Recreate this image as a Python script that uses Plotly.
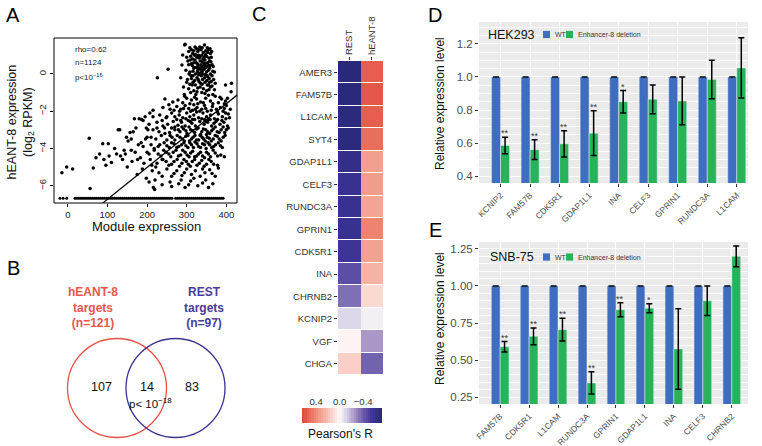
import plotly.graph_objects as go

FONT = "Liberation Sans, Arial, Helvetica, sans-serif"

# ---------------- Panel A: scatter -------------
floor_level = -6.67
floor_x = [-20, -12, -3, 18, 23, 28, 33, 38, 43, 48, 53, 58, 63, 68, 73, 78, 83, 88,
           93, 98, 103, 108, 113, 118, 123, 128, 133, 138, 143, 148, 153, 158, 163,
           168, 173, 178, 183, 188, 193, 198, 203, 208, 213, 218, 223, 228, 233, 238,
           243, 248, 253, 258, 263, 272, 277, 282, 287, 292, 297, 302, 307, 312, 317,
           322, 327, 332, 337, 342, 347, 352, 357, 362, 367, 372, 377, 382, 387, 392]

scatter_pts = [
    # sparse left part
    (-15, -5.3), (-3, -5.0), (12, -5.1), (54, -3.45), (64, -5.05), (71, -4.5), (56, -6.15),
    (88, -3.75), (102, -3.75), (91, -4.6), (110, -4.75), (104, -4.4), (123, -4.3), (127, -3.0),
    (131, -3.0), (133, -4.4), (138, -4.6), (142, -4.1), (145, -4.3), (150, -5.0), (152, -3.6),
    (157, -3.15), (160, -3.5), (162, -4.7), (165, -3.1), (168, -2.4), (170, -4.2), (172, -2.9),
    (175, -5.4), (178, -3.8), (180, -2.4), (183, -4.5), (186, -2.45), (188, -5.1), (190, -2.5),
    (190, -3.9), (192, -4.8), (195, -2.3), (196, -3.5), (198, -5.6), (200, -4.2), (202, -3.0),
    (205, -5.8), (207, -2.1), (208, -4.6), (210, -3.4), (213, -5.2), (215, -1.95), (216, -6.1),
    (219, -6.2), (220, -5.7), (218, -4.0), (222, -5.0),
    (225, -2.9), (232, -3.8), (238, -4.6), (245, -3.2), (212, -4.9), (228, -4.3), (240, -2.8),
    (250, -2.3), (255, -1.65), (268, -1.95), (198, -2.9), (185, -3.7), (176, -4.6), (160, -4.1),
    (148, -3.4), (118, -4.0), (96, -4.9), (80, -4.3),
    # isolated high points
    (253, 0.25), (226, -0.2), (245, -1.35), (295, 1.56), (290, 1.02), (288, 0.48),
    (413, -0.5), (412, -0.95), (398, -0.6),
    # dense upper cluster
    (296, 1.6), (333, 1.45), (345, 1.55), (352, 1.4), (325, 1.35),
    (312, 1.3), (318, 1.25), (328, 1.2), (336, 1.3), (342, 1.15), (348, 1.25), (355, 1.3),
    (360, 1.1), (322, 1.05), (305, 1.2),
    (300, 0.9), (310, 0.95), (315, 0.8), (320, 1.0), (326, 0.9), (331, 0.85), (338, 1.0),
    (344, 0.9), (350, 0.95), (356, 0.85), (362, 0.9), (334, 0.7), (318, 0.6), (340, 0.65),
    (305, 0.5), (312, 0.55), (324, 0.6), (329, 0.45), (336, 0.5), (342, 0.4), (347, 0.55),
    (353, 0.6), (358, 0.45), (364, 0.5), (320, 0.35), (346, 0.75), (332, 0.3),
    (298, 0.2), (308, 0.1), (316, 0.15), (322, 0.0), (328, 0.2), (334, 0.05), (339, 0.15),
    (344, 0.25), (350, 0.1), (355, 0.2), (360, 0.0), (366, 0.15), (347, -0.05), (337, -0.1),
    (302, -0.3), (312, -0.25), (320, -0.35), (326, -0.2), (331, -0.4), (340, -0.3),
    (345, -0.2), (351, -0.35), (357, -0.25), (362, -0.4), (368, -0.3), (335, -0.5), (355, -0.6),
    (292, -0.7), (305, -0.8), (314, -0.6), (318, -0.9), (328, -0.75), (342, -0.8), (350, -0.9),
    (360, -0.7), (370, -0.85), (338, -1.0), (323, -1.1), (300, -0.45), (285, -0.2), (294, -1.1),
    (330, 1.0), (341, 0.8), (327, 0.1), (352, -0.1), (316, -0.1), (344, 0.55), (358, 0.7),
    (308, 1.4), (315, 1.1), (321, 1.45), (330, 1.3), (339, 1.4), (347, 1.05), (353, 1.15),
    (359, 1.35), (363, 1.2), (303, 0.7), (309, 0.75), (314, 0.45), (321, 0.75), (327, 0.55),
    (333, 0.9), (337, 0.35), (343, 0.6), (349, 0.35), (355, 0.45), (361, 0.65), (367, 0.4),
    (306, 0.0), (311, -0.1), (318, 0.3), (325, 0.35), (330, -0.05), (336, 0.25), (341, 0.0),
    (348, 0.4), (353, -0.15), (358, 0.3), (364, -0.1), (370, 0.1), (308, -0.55), (316, -0.45),
    (322, -0.6), (329, -0.3), (334, -0.7), (339, -0.55), (346, -0.45), (352, -0.6),
    (358, -0.45), (364, -0.65), (372, -0.5), (310, -1.0), (326, -0.95), (346, -1.05),
    (356, -0.85), (366, -1.1),
    # main cloud
    (265, -1.5), (300, -1.3), (312, -1.4), (320, -1.25), (335, -1.5), (348, -1.3), (360, -1.45),
    (372, -1.2), (380, -1.55), (388, -1.35), (395, -1.6), (403, -1.3), (355, -1.15), (328, -1.6),
    (290, -1.55),
    (240, -1.8), (258, -1.9), (275, -1.75), (285, -1.9), (296, -1.7), (305, -1.85), (315, -1.95),
    (326, -1.8), (338, -1.9), (345, -1.7), (352, -2.0), (365, -1.75), (375, -1.9), (385, -1.8),
    (392, -2.0), (400, -1.7), (410, -1.9), (318, -1.65),
    (215, -2.3), (232, -2.2), (248, -2.35), (262, -2.1), (270, -2.3), (281, -2.2), (290, -2.35),
    (300, -2.1), (308, -2.3), (318, -2.2), (330, -2.35), (341, -2.1), (350, -2.3), (360, -2.2),
    (370, -2.4), (380, -2.15), (390, -2.3), (398, -2.1), (408, -2.35), (325, -2.05), (355, -2.45),
    (205, -2.7), (225, -2.6), (238, -2.5), (252, -2.7), (266, -2.55), (278, -2.75), (287, -2.6),
    (296, -2.8), (304, -2.5), (313, -2.65), (322, -2.8), (333, -2.55), (344, -2.7), (353, -2.6),
    (363, -2.8), (374, -2.55), (384, -2.7), (394, -2.6), (403, -2.8), (315, -2.45), (345, -2.45),
    (215, -3.0), (230, -3.1), (244, -2.9), (257, -3.15), (270, -3.0), (283, -3.1), (292, -2.95),
    (301, -3.2), (310, -3.0), (320, -3.15), (329, -2.9), (338, -3.1), (348, -3.0), (358, -3.2),
    (367, -2.95), (377, -3.1), (387, -3.0), (396, -3.15), (405, -2.9), (270, -2.85), (335, -3.25),
    (200, -3.4), (222, -3.5), (236, -3.3), (250, -3.55), (263, -3.4), (276, -3.3), (289, -3.5),
    (298, -3.35), (307, -3.6), (316, -3.4), (325, -3.55), (334, -3.3), (343, -3.5), (352, -3.4),
    (362, -3.6), (372, -3.3), (382, -3.5), (392, -3.4), (350, -3.25),
    (210, -3.8), (228, -3.9), (243, -3.7), (256, -3.95), (268, -3.75), (280, -3.9), (293, -3.7),
    (303, -3.95), (312, -3.8), (321, -3.65), (330, -3.9), (340, -3.75), (349, -4.0), (358, -3.8),
    (368, -3.9), (380, -3.7), (390, -3.95),
    (205, -4.3), (218, -4.1), (235, -4.4), (248, -4.2), (260, -4.45), (273, -4.1), (285, -4.35),
    (296, -4.2), (306, -4.45), (315, -4.15), (325, -4.4), (335, -4.2), (345, -4.5), (355, -4.3),
    (367, -4.1), (378, -4.4), (395, -4.45),
    (225, -4.8), (240, -4.6), (255, -4.9), (268, -4.7), (282, -4.95), (293, -4.6), (304, -4.85),
    (314, -4.7), (326, -4.9), (338, -4.65), (350, -4.85), (362, -4.7), (378, -4.9),
    (230, -5.3), (250, -5.1), (262, -5.5), (275, -5.2), (288, -5.45), (300, -5.1), (312, -5.4),
    (322, -5.2), (334, -5.5), (346, -5.3), (358, -5.15), (372, -5.5), (380, -5.05),
    (258, -5.8), (262, -6.05), (280, -5.9), (296, -6.1), (310, -5.75), (328, -6.0), (340, -5.85),
    (355, -6.1), (366, -5.9), (238, -5.95),
    (278, -1.4), (295, -1.2), (308, -1.6), (325, -1.35), (342, -1.55), (366, -1.6), (384, -1.25),
    (398, -1.45), (282, -2.0), (292, -1.85), (310, -2.0), (322, -1.9), (333, -2.0), (348, -1.85),
    (362, -1.95), (378, -2.05), (395, -1.85), (405, -2.15), (275, -2.45), (285, -2.5),
    (298, -2.4), (309, -2.55), (320, -2.45), (338, -2.4), (348, -2.55), (359, -2.45),
    (369, -2.65), (378, -2.45), (389, -2.5), (399, -2.4), (262, -2.9), (279, -3.0), (288, -2.85),
    (298, -3.05), (306, -2.85), (315, -3.05), (325, -2.95), (342, -2.95), (353, -3.1),
    (363, -3.05), (372, -2.85), (382, -3.15), (392, -2.85), (400, -3.0), (258, -3.3),
    (270, -3.55), (283, -3.4), (294, -3.6), (303, -3.3), (312, -3.5), (321, -3.3), (330, -3.55),
    (339, -3.4), (347, -3.6), (357, -3.45), (367, -3.5), (377, -3.35), (387, -3.6), (397, -3.3),
    (250, -3.85), (262, -3.7), (275, -3.95), (287, -3.8), (298, -3.85), (308, -3.7),
    (317, -3.95), (326, -3.75), (335, -3.95), (345, -3.8), (354, -3.7), (363, -3.95),
    (373, -3.8), (385, -3.85), (242, -4.1), (255, -4.3), (266, -4.2), (279, -4.4), (290, -4.1),
    (301, -4.35), (310, -4.25), (320, -4.45), (330, -4.3), (340, -4.4), (350, -4.2), (360, -4.45),
    (372, -4.25), (386, -4.35), (248, -4.7), (262, -4.85), (276, -4.6), (288, -4.8), (299, -4.7),
    (309, -4.95), (320, -4.6), (332, -4.8), (344, -4.95), (356, -4.6), (368, -4.85),
    (238, -5.5), (268, -5.35), (294, -5.3), (318, -5.6), (340, -5.1), (364, -5.35), (286, -5.7),
    (305, -5.95), (348, -5.7),
]
fit_intercept = -8.44
fit_slope = 0.0171
fit_x = [60, 440]

# ---------------- Panel B: Venn ----------------
venn_counts = {"hEANT-8 only": 107, "both": 14, "REST only": 83}
venn_heant8_n = 121
venn_rest_n = 97

# ---------------- Panel C: heatmap ----------------
heat_genes = ["AMER3", "FAM57B", "L1CAM", "SYT4", "GDAP1L1", "CELF3", "RUNDC3A",
              "GPRIN1", "CDK5R1", "INA", "CHRNB2", "KCNIP2", "VGF", "CHGA"]
heat_cols = ["REST", "hEANT-8"]
r_rest = [-0.72, -0.71, -0.70, -0.70, -0.64, -0.60, -0.60, -0.60, -0.56, -0.45, -0.35,
          -0.10, 0.02, 0.15]
r_heant8 = [0.55, 0.57, 0.55, 0.50, 0.33, 0.34, 0.31, 0.43, 0.32, 0.25, 0.12, -0.03,
            -0.25, -0.38]
cbar_vals = [0.62, 0.58, 0.54, 0.50, 0.46, 0.42, 0.38, 0.34, 0.30, 0.26, 0.22, 0.18, 0.14,
             0.10, 0.06, 0.02, -0.02, -0.06, -0.10, -0.14, -0.18, -0.22, -0.26, -0.30,
             -0.34, -0.38, -0.42, -0.46, -0.50, -0.54, -0.58, -0.62, -0.66, -0.70]
r_min, r_max = -0.72, 0.64
cscale = [[0.0, "#2a2878"], [0.125, "#3f3598"], [0.235, "#6a5aaa"], [0.346, "#aa98c8"],
          [0.456, "#dcd8ea"], [0.529, "#fdfafa"], [0.618, "#fcd8d2"], [0.713, "#f6b2a5"],
          [0.787, "#f29a89"], [0.86, "#ee7d6b"], [0.949, "#e35848"], [1.0, "#df4a3c"]]

# ---------------- Panel D: HEK293 ----------------
d_genes = ["KCNIP2", "FAM57B", "CDK5R1", "GDAP1L1", "INA", "CELF3", "GPRIN1", "RUNDC3A", "L1CAM"]
d_wt = [1, 1, 1, 1, 1, 1, 1, 1, 1]
d_del = [0.585, 0.56, 0.595, 0.66, 0.85, 0.865, 0.855, 0.985, 1.055]
d_err = [0.05, 0.06, 0.08, 0.135, 0.068, 0.087, 0.145, 0.117, 0.183]
d_sig = ["**", "**", "**", "**", "*", "", "", "", ""]

# ---------------- Panel E: SNB-75 ----------------
e_genes = ["FAM57B", "CDK5R1", "L1CAM", "RUNDC3A", "GPRIN1", "GDAP1L1", "INA", "CELF3", "CHRNB2"]
e_wt = [1, 1, 1, 1, 1, 1, 1, 1, 1]
e_del = [0.59, 0.66, 0.705, 0.345, 0.84, 0.85, 0.575, 0.90, 1.20]
e_err = [0.035, 0.057, 0.077, 0.075, 0.047, 0.03, 0.272, 0.10, 0.07]
e_sig = ["**", "**", "**", "**", "**", "*", "", "", ""]

legend_names = ["WT", "Enhancer-8 deletion"]
WT_COLOR = "#3f6dc0"
DEL_COLOR = "#28b35b"
W, H = 762, 446


def px_x(p):
    return p / W


def px_y(p):
    return 1 - p / H


def note(x, y, text, size, color="#111111", xanchor="center", **kw):
    return dict(x=px_x(x), y=px_y(y), xref="paper", yref="paper", text=text,
                showarrow=False, xanchor=xanchor, yanchor="middle",
                font=dict(family=FONT, size=size, color=color, **kw.pop("fontkw", {})), **kw)


fig = go.Figure()

# ---- A
fig.add_trace(go.Scatter(x=floor_x, y=[floor_level] * len(floor_x), mode="markers",
                         marker=dict(color="black", size=3), xaxis="x", yaxis="y",
                         showlegend=False))
fig.add_trace(go.Scatter(x=[p[0] for p in scatter_pts], y=[p[1] for p in scatter_pts],
                         mode="markers", marker=dict(color="black", size=3.5),
                         xaxis="x", yaxis="y", showlegend=False))
fig.add_trace(go.Scatter(x=fit_x, y=[fit_intercept + fit_slope * v for v in fit_x],
                         mode="lines", line=dict(color="black", width=1.2),
                         xaxis="x", yaxis="y", showlegend=False))

# ---- C heatmap + its colour key
fig.add_trace(go.Heatmap(z=[[a, b] for a, b in zip(r_rest, r_heant8)], x=heat_cols,
                         y=heat_genes, colorscale=cscale, zmin=r_min, zmax=r_max,
                         showscale=False, ygap=1, xaxis="x2", yaxis="y2",
                         hoverinfo="skip"))
fig.add_trace(go.Heatmap(z=[cbar_vals], x=cbar_vals, y=[0], colorscale=cscale,
                         zmin=r_min, zmax=r_max, showscale=False, xaxis="x6",
                         yaxis="y6", hoverinfo="skip"))

# ---- D / E bars
for genes, wt, dele, err, xa, ya in [(d_genes, d_wt, d_del, d_err, "x3", "y3"),
                                      (e_genes, e_wt, e_del, e_err, "x4", "y4")]:
    fig.add_trace(go.Bar(x=genes, y=wt, name=legend_names[0], marker_color=WT_COLOR,
                         error_y=dict(type="data", array=[0] * len(wt), color="black",
                                      thickness=1.5, width=3),
                         xaxis=xa, yaxis=ya, showlegend=False, offsetgroup="wt"))
    fig.add_trace(go.Bar(x=genes, y=dele, name=legend_names[1], marker_color=DEL_COLOR,
                         error_y=dict(type="data", array=err, color="black",
                                      thickness=1.5, width=3),
                         xaxis=xa, yaxis=ya, showlegend=False, offsetgroup="del"))

annotations = []
shapes = []

# significance stars
for genes, vals, errs, sig, xr, yr in [(d_genes, d_del, d_err, d_sig, "x3", "y3"),
                                        (e_genes, e_del, e_err, e_sig, "x4", "y4")]:
    for g, v, e, s in zip(genes, vals, errs, sig):
        if s:
            annotations.append(dict(x=g, y=v + e, xref=xr, yref=yr, text=s, showarrow=False,
                                    xshift=4.5, yshift=-3, yanchor="bottom", xanchor="center",
                                    font=dict(family=FONT, size=9, color="#333333")))

# grey ggplot backgrounds
for xr, yr in [("x3", "y3"), ("x4", "y4")]:
    shapes.append(dict(type="rect", xref=xr + " domain", yref=yr + " domain", x0=0, x1=1,
                       y0=0, y1=1, fillcolor="#ebebeb", line=dict(width=0), layer="below"))
# frame of panel A
shapes.append(dict(type="rect", xref="x domain", yref="y domain", x0=0, x1=1, y0=0, y1=1,
                   line=dict(color="black", width=1), fillcolor="rgba(0,0,0,0)"))

# custom legends of D / E
for ycen, title in [(34.5, "HEK293"), (257, "SNB-75")]:
    for (x0, x1), col, lab, tx in [((543, 550), WT_COLOR, legend_names[0], 552.5),
                                   ((566, 573), DEL_COLOR, legend_names[1], 575.5)]:
        shapes.append(dict(type="rect", xref="paper", yref="paper", x0=px_x(x0), x1=px_x(x1),
                           y0=px_y(ycen + 3.6), y1=px_y(ycen - 3.6), fillcolor=col,
                           line=dict(width=0)))
        annotations.append(note(tx, ycen, lab, 7, "#333333", xanchor="left"))
    annotations.append(note(511.5, ycen, title, 12.5))

# Venn circles (axis x5/y5 in pixel-like units)
venn_r = 49.5
red_c = (117, 58)
blue_c = (175.5, 58)
shapes.append(dict(type="circle", xref="x5", yref="y5", x0=red_c[0] - venn_r,
                   x1=red_c[0] + venn_r, y0=red_c[1] - venn_r, y1=red_c[1] + venn_r,
                   line=dict(color="#e8524a", width=1.3)))
shapes.append(dict(type="circle", xref="x5", yref="y5", x0=blue_c[0] - venn_r,
                   x1=blue_c[0] + venn_r, y0=blue_c[1] - venn_r, y1=blue_c[1] + venn_r,
                   line=dict(color="#3b3591", width=1.3)))
for txt, xx, yy in [(str(venn_counts["hEANT-8 only"]), 101, 59),
                    (str(venn_counts["both"]), 147, 59),
                    (str(venn_counts["REST only"]), 192, 59)]:
    annotations.append(dict(x=xx, y=yy, xref="x5", yref="y5", text=txt, showarrow=False,
                            xanchor="center", yanchor="middle",
                            font=dict(family=FONT, size=12.5, color="#111111")))
annotations.append(dict(x=150, y=43, xref="x5", yref="y5",
                        text="p< 10<sup>−18</sup>", showarrow=False,
                        xanchor="center", yanchor="middle",
                        font=dict(family=FONT, size=11.5, color="#111111")))
annotations.append(note(93, 307, f"hEANT-8<br>targets<br>(n={venn_heant8_n})", 12,
                        "#e9564b", fontkw=dict(weight="bold")))
annotations.append(note(204, 307, f"REST<br>targets<br>(n={venn_rest_n})", 12,
                        "#4b3b99", fontkw=dict(weight="bold")))

# panel letters
for letter, xx, yy in [("A", 12.5, 15), ("B", 13, 268), ("C", 259, 14), ("D", 435, 15),
                       ("E", 435, 230)]:
    annotations.append(note(xx, yy, letter, 20, "black"))

# Panel A texts
annotations.append(note(20.5, 122, "hEANT-8 expression<br>(log<sub>2</sub> RPKM)", 12.5,
                        textangle=-90))
annotations.append(note(146, 226, "Module expression", 13))
for txt, yy in [("rho=0.62", 50), ("n=1124", 63), ("p<10<sup>−16</sup>", 77)]:
    annotations.append(note(73, yy, txt, 8, "#222222", xanchor="left"))

# Panel C colour key label
annotations.append(note(340, 434, "Pearson's R", 12))

# Panel D/E y titles
for ty in [104, 319]:
    annotations.append(note(440, ty, "Relative expression level", 12, textangle=-90))

gg_y = dict(showgrid=True, gridcolor="white", gridwidth=1.1, zeroline=False,
            ticks="outside", ticklen=3, tickcolor="#333333",
            tickfont=dict(family=FONT, size=11.5, color="#4d4d4d"),
            minor=dict(showgrid=True, gridcolor="white", gridwidth=0.5))
gg_x = dict(showgrid=True, gridcolor="white", gridwidth=1.1, ticks="outside", ticklen=3,
            tickcolor="#333333", tickangle=-45,
            tickfont=dict(family=FONT, size=8.5, color="#4d4d4d"))

fig.update_layout(
    width=W, height=H, margin=dict(l=0, r=0, t=0, b=0, autoexpand=False),
    paper_bgcolor="white", plot_bgcolor="rgba(0,0,0,0)",
    barmode="group", bargap=0.39, bargroupgap=0, showlegend=False,
    font=dict(family=FONT),
    xaxis=dict(domain=[px_x(54), px_x(237)], range=[-35, 427], anchor="y",
               ticks="outside", ticklen=3, tickcolor="black", tickvals=[0, 100, 200, 300, 400],
               tickfont=dict(family=FONT, size=9.5, color="#222222"), showgrid=False,
               zeroline=False, showline=False),
    yaxis=dict(domain=[px_y(203), px_y(38)], range=[-6.93, 1.93], anchor="x",
               ticks="outside", ticklen=3, tickcolor="black", tickvals=[-6, -4, -2, 0],
               tickangle=-90, tickfont=dict(family=FONT, size=9.5, color="#222222"),
               showgrid=False, zeroline=False, showline=False),
    xaxis2=dict(domain=[px_x(338), px_x(383)], anchor="y2", side="top", tickangle=-90,
                ticks="outside", ticklen=3, tickcolor="#333333",
                tickfont=dict(family=FONT, size=9.5, color="#333333")),
    yaxis2=dict(domain=[px_y(375), px_y(61)], anchor="x2", autorange="reversed",
                ticks="outside", ticklen=3, tickcolor="#333333",
                tickfont=dict(family=FONT, size=9.5, color="#333333")),
    xaxis3=dict(domain=[px_x(479), px_x(748)], anchor="y3", range=[-0.73, 8.38], **gg_x),
    yaxis3=dict(domain=[px_y(183), px_y(22)], anchor="x3", range=[0.358, 1.333],
                tickvals=[0.4, 0.6, 0.8, 1.0, 1.2], tickformat=".1f", **gg_y),
    xaxis4=dict(domain=[px_x(479), px_x(748)], anchor="y4", range=[-0.73, 8.56], **gg_x),
    yaxis4=dict(domain=[px_y(404), px_y(242)], anchor="x4", range=[0.203, 1.297],
                tickvals=[0.25, 0.5, 0.75, 1.0, 1.25], tickformat=".2f", **gg_y),
    xaxis5=dict(domain=[0, 0.33], anchor="y5", range=[0, 0.33 * W], visible=False,
                fixedrange=True),
    yaxis5=dict(domain=[0, 0.30], anchor="x5", range=[0, 0.30 * H], visible=False,
                fixedrange=True),
    xaxis6=dict(domain=[px_x(302), px_x(382)], anchor="y6", range=[0.64, -0.72],
                side="top", tickvals=[0.4, 0.0, -0.4], ticktext=["0.4", "0.0", "−0.4"],
                ticks="", showgrid=False, zeroline=False,
                tickfont=dict(family=FONT, size=9.5, color="#333333")),
    yaxis6=dict(domain=[px_y(423), px_y(408)], anchor="x6", visible=False),
    annotations=annotations,
    shapes=shapes,
)
fig.add_trace(go.Scatter(x=[None], y=[None], xaxis="x5", yaxis="y5", showlegend=False))

fig.write_html("out.html", config={"displayModeBar": False},
               post_script="document.body.style.margin='0px';"
                           "document.body.style.overflow='hidden';")
